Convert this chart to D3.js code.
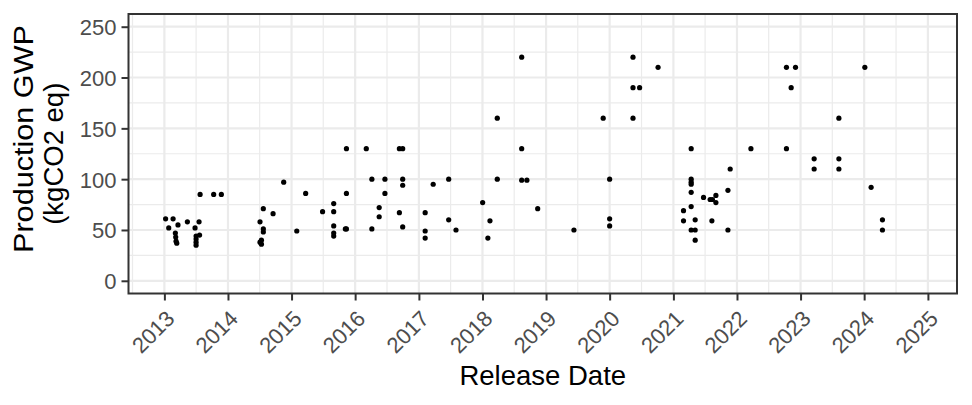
<!DOCTYPE html>
<html>
<head>
<meta charset="utf-8">
<script src="https://cdn.jsdelivr.net/npm/d3@7"></script>
<style>
  body { margin: 0; background: #fff; }
  text { font-family: "Liberation Sans", Arial, Helvetica, sans-serif; }
</style>
</head>
<body>
<div id="chart"></div>
<script>
// release dates and production GWP (kgCO2 eq)
var releaseDates = [
  '2013-01-08','2013-01-26','2013-02-20','2013-03-05','2013-03-07','2013-03-09','2013-03-13',
  '2013-03-20','2013-05-13','2013-06-26','2013-07-02','2013-07-02','2013-07-02','2013-07-02',
  '2013-07-19','2013-07-22','2013-07-25','2013-10-11','2013-11-24',
  '2014-07-04','2014-07-04','2014-07-12','2014-07-12','2014-07-23','2014-07-23','2014-07-23',
  '2014-09-17','2014-11-17','2015-01-31','2015-03-23','2015-06-28',
  '2015-08-31','2015-08-31','2015-08-31','2015-08-31','2015-08-31',
  '2015-11-06','2015-11-12','2015-11-12','2015-11-12',
  '2016-03-05','2016-04-06','2016-04-06','2016-05-18','2016-05-18','2016-06-20','2016-06-20',
  '2016-09-11','2016-09-11','2016-09-30','2016-09-30','2016-09-30','2016-09-30',
  '2017-02-06','2017-02-06','2017-02-06','2017-03-24','2017-06-21','2017-06-21','2017-08-02',
  '2018-01-02','2018-02-01','2018-02-13','2018-03-27','2018-03-27',
  '2018-08-14','2018-08-14','2018-08-14','2018-09-13','2018-11-14',
  '2019-06-10','2019-11-25','2020-01-01','2020-01-01','2020-01-01',
  '2020-05-14','2020-05-14','2020-05-14','2020-06-21','2020-10-05',
  '2021-02-28','2021-02-28',
  '2021-04-13','2021-04-13','2021-04-13','2021-04-13','2021-04-13','2021-04-13','2021-04-13',
  '2021-05-06','2021-05-06','2021-05-06','2021-06-23','2021-07-31','2021-08-13','2021-08-10',
  '2021-09-02','2021-09-02','2021-11-10','2021-11-10','2021-11-23',
  '2022-03-22','2022-10-12','2022-10-12','2022-11-08','2022-12-03',
  '2023-03-20','2023-03-20','2023-08-09','2023-08-09','2023-08-09',
  '2024-01-05','2024-02-10','2024-04-15','2024-04-15'
];
var gwpValues = [
  61, 52, 61, 47, 43, 39, 37,
  55, 58, 52, 44, 41, 38, 35,
  58, 45, 85, 85, 85,
  58, 38, 40, 36, 71, 51, 48,
  66, 97, 49, 86, 68,
  76, 68, 54, 47, 44,
  51, 130, 86, 51,
  130, 100, 51, 72, 63, 100, 86,
  130, 67, 130, 100, 94, 53,
  67, 49, 42, 95, 100, 60, 50,
  77, 42, 59, 160, 100,
  220, 130, 99, 99, 71,
  50, 160, 100, 61, 54,
  220, 190, 160, 190, 210,
  69, 59,
  130, 100, 97, 95, 87, 73, 50,
  60, 50, 40, 82, 80, 80, 59,
  84, 77, 89, 50, 110,
  130, 210, 130, 190, 210,
  120, 110, 160, 120, 110,
  210, 92, 60, 50
];
var yearTicks = ['2013','2014','2015','2016','2017','2018','2019','2020','2021','2022','2023','2024','2025'];
var gwpTicks = [0, 50, 100, 150, 200, 250];
var gwpMinorTicks = [25, 75, 125, 175, 225];

var width = 972, height = 405;
var margin = {top: 14, right: 15, bottom: 111.5, left: 128.5};
var parseDay = d3.timeParse('%Y-%m-%d');

var points = releaseDates.map(function(d, i) {
  return {date: parseDay(d), gwp: gwpValues[i]};
});

var x = d3.scaleTime()
  .domain([parseDay('2012-06-09'), parseDay('2025-06-17')])
  .range([margin.left, width - margin.right]);
var y = d3.scaleLinear()
  .domain([-12.5, 262.5])
  .range([height - margin.bottom, margin.top]);

var svg = d3.select('#chart').append('svg')
  .attr('width', width)
  .attr('height', height);

var majorX = yearTicks.map(function(t) { return parseDay(t + '-01-01'); });
var minorX = ['2012'].concat(yearTicks).map(function(t) { return parseDay(t + '-07-02'); })
  .filter(function(d) { return d >= x.domain()[0] && d <= x.domain()[1]; });

var grid = svg.append('g');
// minor grid
grid.selectAll('.minor-y').data(gwpMinorTicks).enter().append('line')
  .attr('x1', margin.left).attr('x2', width - margin.right)
  .attr('y1', function(d) { return y(d); }).attr('y2', function(d) { return y(d); })
  .attr('stroke', '#ebebeb').attr('stroke-width', 1.2);
grid.selectAll('.minor-x').data(minorX).enter().append('line')
  .attr('y1', margin.top).attr('y2', height - margin.bottom)
  .attr('x1', function(d) { return x(d); }).attr('x2', function(d) { return x(d); })
  .attr('stroke', '#ebebeb').attr('stroke-width', 1.2);
// major grid
grid.selectAll('.major-y').data(gwpTicks).enter().append('line')
  .attr('x1', margin.left).attr('x2', width - margin.right)
  .attr('y1', function(d) { return y(d); }).attr('y2', function(d) { return y(d); })
  .attr('stroke', '#ebebeb').attr('stroke-width', 2.2);
grid.selectAll('.major-x').data(majorX).enter().append('line')
  .attr('y1', margin.top).attr('y2', height - margin.bottom)
  .attr('x1', function(d) { return x(d); }).attr('x2', function(d) { return x(d); })
  .attr('stroke', '#ebebeb').attr('stroke-width', 2.2);

// points
svg.append('g').selectAll('circle')
  .data(points)
  .enter()
  .append('circle')
    .attr('cx', function(d) { return x(d.date); })
    .attr('cy', function(d) { return y(d.gwp); })
    .attr('r', 2.6)
    .attr('fill', '#000');

// panel border
svg.append('rect')
  .attr('x', margin.left).attr('y', margin.top)
  .attr('width', width - margin.right - margin.left)
  .attr('height', height - margin.bottom - margin.top)
  .attr('fill', 'none').attr('stroke', '#333333').attr('stroke-width', 2);

// axes
var xAxis = svg.append('g')
  .attr('transform', 'translate(0,' + (height - margin.bottom) + ')')
  .call(d3.axisBottom(x).tickValues(majorX).tickSize(7).tickFormat(d3.timeFormat('%Y')));
xAxis.select('.domain').remove();
xAxis.selectAll('.tick line').attr('stroke', '#333333').attr('stroke-width', 2);
xAxis.selectAll('.tick text')
  .attr('fill', '#4d4d4d').attr('font-size', 22)
  .attr('text-anchor', 'end')
  .attr('y', 0).attr('dy', 0)
  .attr('transform', 'translate(11,26.5) rotate(-45)');

var yAxis = svg.append('g')
  .attr('transform', 'translate(' + margin.left + ',0)')
  .call(d3.axisLeft(y).tickValues(gwpTicks).tickSize(7).tickPadding(5));
yAxis.select('.domain').remove();
yAxis.selectAll('.tick line').attr('stroke', '#333333').attr('stroke-width', 2);
yAxis.selectAll('.tick text')
  .attr('fill', '#4d4d4d').attr('font-size', 22)
  .attr('dy', '0.36em');

// axis titles
svg.append('text')
  .attr('x', (margin.left + width - margin.right) / 2)
  .attr('y', 385)
  .attr('text-anchor', 'middle')
  .attr('font-size', 27.5)
  .attr('fill', '#000')
  .text('Release Date');

var yMid = (margin.top + height - margin.bottom) / 2;
svg.append('text')
  .attr('transform', 'translate(33,139) rotate(-90)')
  .attr('text-anchor', 'middle')
  .attr('font-size', 27.5)
  .attr('textLength', 228)
  .attr('lengthAdjust', 'spacingAndGlyphs')
  .attr('fill', '#000')
  .text('Production GWP');
svg.append('text')
  .attr('transform', 'translate(63,' + yMid + ') rotate(-90)')
  .attr('text-anchor', 'middle')
  .attr('font-size', 27.5)
  .attr('fill', '#000')
  .text('(kgCO2 eq)');
</script>
</body>
</html>
